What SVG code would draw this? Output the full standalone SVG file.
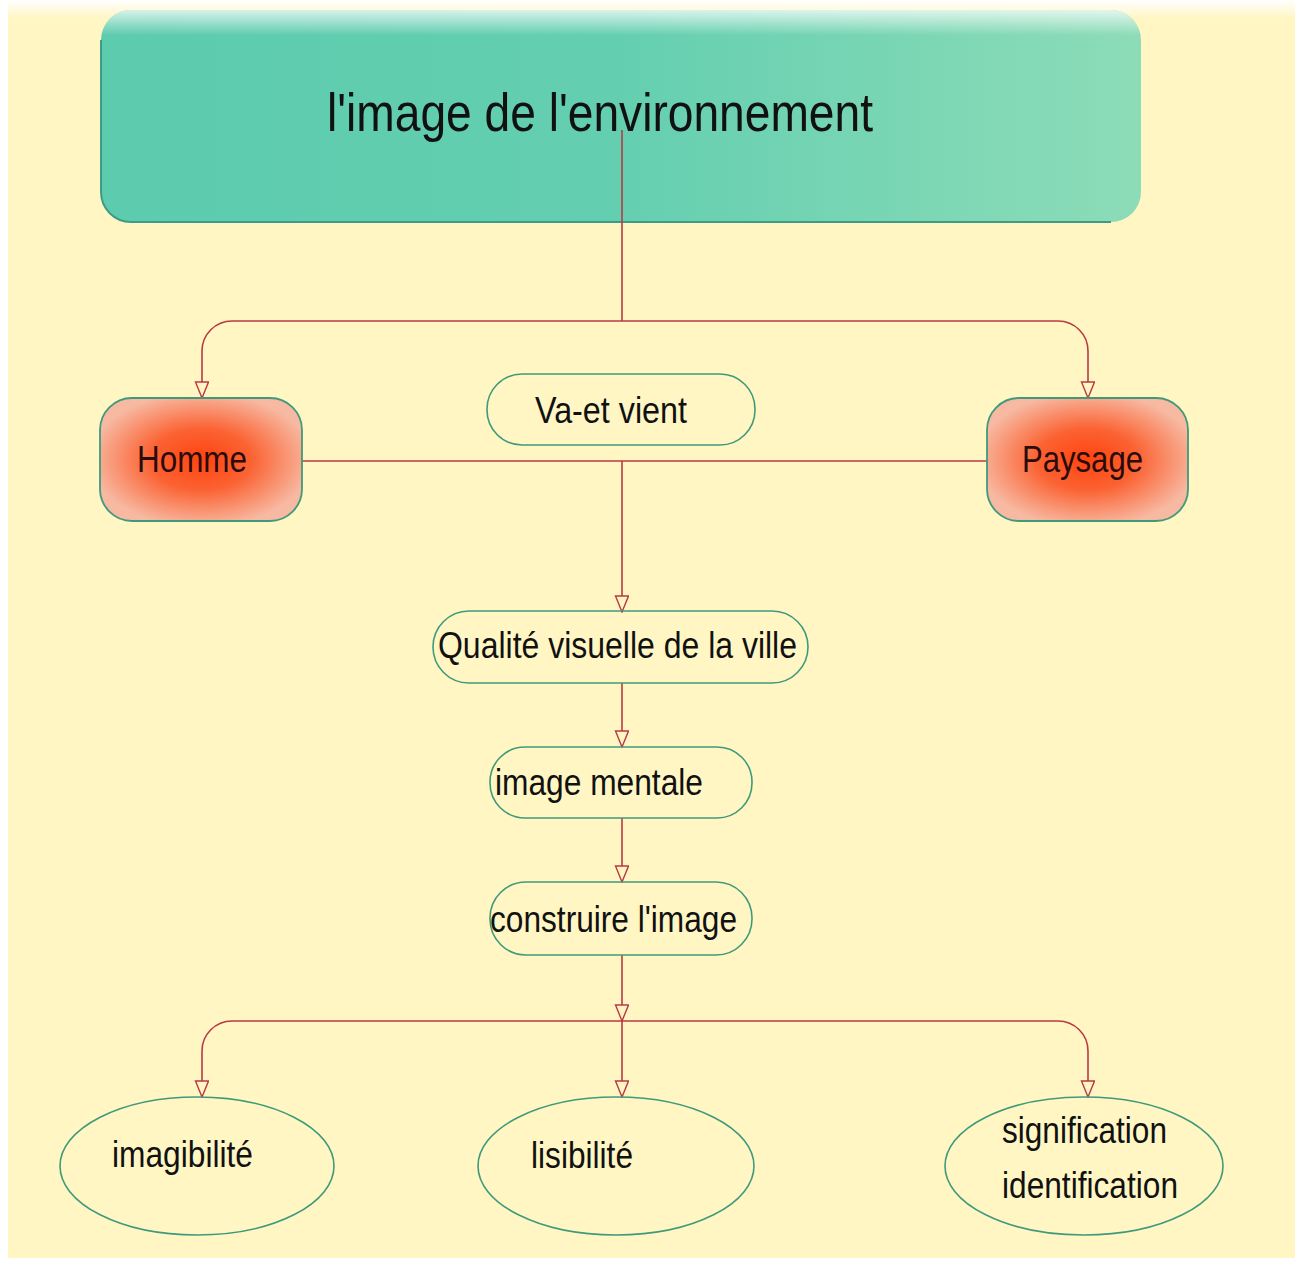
<svg xmlns="http://www.w3.org/2000/svg" width="1302" height="1268" viewBox="0 0 1302 1268">
<defs>
<linearGradient id="gTitle" x1="0" y1="0" x2="1" y2="0">
<stop offset="0" stop-color="#5ccbae"/>
<stop offset="0.5" stop-color="#64cfb0"/>
<stop offset="1" stop-color="#8ddcb8"/>
</linearGradient>
<linearGradient id="gTitleTop" x1="0" y1="0" x2="0" y2="1">
<stop offset="0" stop-color="#ffffff" stop-opacity="0.75"/>
<stop offset="0.12" stop-color="#ffffff" stop-opacity="0"/>
<stop offset="1" stop-color="#ffffff" stop-opacity="0"/>
</linearGradient>
<radialGradient id="gRed" cx="0.5" cy="0.5" r="0.55">
<stop offset="0" stop-color="#ff4410"/>
<stop offset="0.45" stop-color="#fb6232"/>
<stop offset="1" stop-color="#f7b9a2"/>
</radialGradient>
<linearGradient id="gBgTop" x1="0" y1="0" x2="0" y2="1">
<stop offset="0" stop-color="#ffffff"/>
<stop offset="1" stop-color="#fff6c4"/>
</linearGradient>
<filter id="glow" x="-10%" y="-20%" width="120%" height="140%">
<feGaussianBlur stdDeviation="3"/>
</filter>
<marker id="arr" viewBox="0 0 18 16" refX="17" refY="7" markerWidth="18" markerHeight="16" markerUnits="userSpaceOnUse" orient="auto">
<path d="M1,0.5 L17,7 L1,13.5 Z" fill="#fff6c4" stroke="#b83a44" stroke-width="1.4"/>
</marker>
</defs>
<style>
.lbl{font-family:"Liberation Sans",Arial,sans-serif;fill:#111;}
.node{fill:none;stroke:#3f9a7c;stroke-width:1.6;}
.halo{fill:none;stroke:#ffffff;stroke-width:8;opacity:0.6;}
.conn{fill:none;stroke:#b83a44;stroke-width:1.6;}
</style>
<rect x="0" y="0" width="1302" height="1268" fill="#ffffff"/>
<rect x="8" y="10" width="1287" height="1248" fill="#fff6c4"/>
<rect x="8" y="0" width="1287" height="18" fill="url(#gBgTop)"/>

<g id="node-title">
<rect x="101" y="10" width="1040" height="212" rx="30" fill="url(#gTitle)"/>
<rect x="101" y="10" width="1040" height="212" rx="30" fill="url(#gTitleTop)"/>
<path d="M101,40 V192 A30,30 0 0 0 131,222 H1111" fill="none" stroke="#3f9a88" stroke-width="2"/>
<text class="lbl" x="327" y="131" font-size="54" textLength="546" lengthAdjust="spacingAndGlyphs">l'image de l'environnement</text>
</g>

<g id="connectors">
<path class="conn" d="M622,130 V321"/>
<path class="conn" d="M622,321 H232 A30,30 0 0 0 202,351 V398" marker-end="url(#arr)"/>
<path class="conn" d="M622,321 H1058 A30,30 0 0 1 1088,351 V398" marker-end="url(#arr)"/>
<path class="conn" d="M302,461 H987"/>
<path class="conn" d="M622,461 V612" marker-end="url(#arr)"/>
<path class="conn" d="M622,683 V747" marker-end="url(#arr)"/>
<path class="conn" d="M622,818 V882" marker-end="url(#arr)"/>
<path class="conn" d="M622,955 V1021" marker-end="url(#arr)"/>
<path class="conn" d="M622,1021 V1097" marker-end="url(#arr)"/>
<path class="conn" d="M622,1021 H232 A30,30 0 0 0 202,1051 V1097" marker-end="url(#arr)"/>
<path class="conn" d="M622,1021 H1058 A30,30 0 0 1 1088,1051 V1097" marker-end="url(#arr)"/>
</g>

<g id="node-homme">
<rect x="100" y="398" width="202" height="123" rx="32" fill="url(#gRed)" stroke="#3f9a7c" stroke-width="1.8"/>
<text class="lbl" x="137" y="472" font-size="36" textLength="110" lengthAdjust="spacingAndGlyphs" fill="#2a0c0c" style="fill:#2a0c0c">Homme</text>
</g>

<g id="node-paysage">
<rect x="987" y="398" width="201" height="123" rx="32" fill="url(#gRed)" stroke="#3f9a7c" stroke-width="1.8"/>
<text class="lbl" x="1022" y="472" font-size="36" textLength="121" lengthAdjust="spacingAndGlyphs" style="fill:#2a0c0c">Paysage</text>
</g>

<g id="node-va-et-vient">
<rect class="node" x="487" y="374" width="268" height="71" rx="35"/>
<text class="lbl" x="535" y="423" font-size="36" textLength="152" lengthAdjust="spacingAndGlyphs">Va-et vient</text>
</g>

<g id="node-qualite">
<rect class="node" x="433" y="611" width="375" height="72" rx="36"/>
<text class="lbl" x="438" y="658" font-size="37" textLength="359" lengthAdjust="spacingAndGlyphs">Qualité visuelle de la ville</text>
</g>

<g id="node-image-mentale">
<rect class="node" x="490" y="747" width="262" height="71" rx="35"/>
<text class="lbl" x="495" y="795" font-size="37" textLength="208" lengthAdjust="spacingAndGlyphs">image mentale</text>
</g>

<g id="node-construire">
<rect class="node" x="490" y="882" width="262" height="73" rx="36"/>
<text class="lbl" x="490" y="932" font-size="37" textLength="247" lengthAdjust="spacingAndGlyphs">construire l'image</text>
</g>

<g id="node-imagibilite">
<ellipse class="node" cx="197" cy="1166" rx="137" ry="69"/>
<text class="lbl" x="112" y="1167" font-size="36" textLength="141" lengthAdjust="spacingAndGlyphs">imagibilité</text>
</g>

<g id="node-lisibilite">
<ellipse class="node" cx="616" cy="1166" rx="138" ry="69"/>
<text class="lbl" x="531" y="1168" font-size="36" textLength="102" lengthAdjust="spacingAndGlyphs">lisibilité</text>
</g>

<g id="node-signification">
<ellipse class="node" cx="1084" cy="1166" rx="139" ry="69"/>
<text class="lbl" x="1002" y="1143" font-size="36" textLength="165" lengthAdjust="spacingAndGlyphs">signification</text>
<text class="lbl" x="1002" y="1198" font-size="36" textLength="176" lengthAdjust="spacingAndGlyphs">identification</text>
</g>
</svg>
